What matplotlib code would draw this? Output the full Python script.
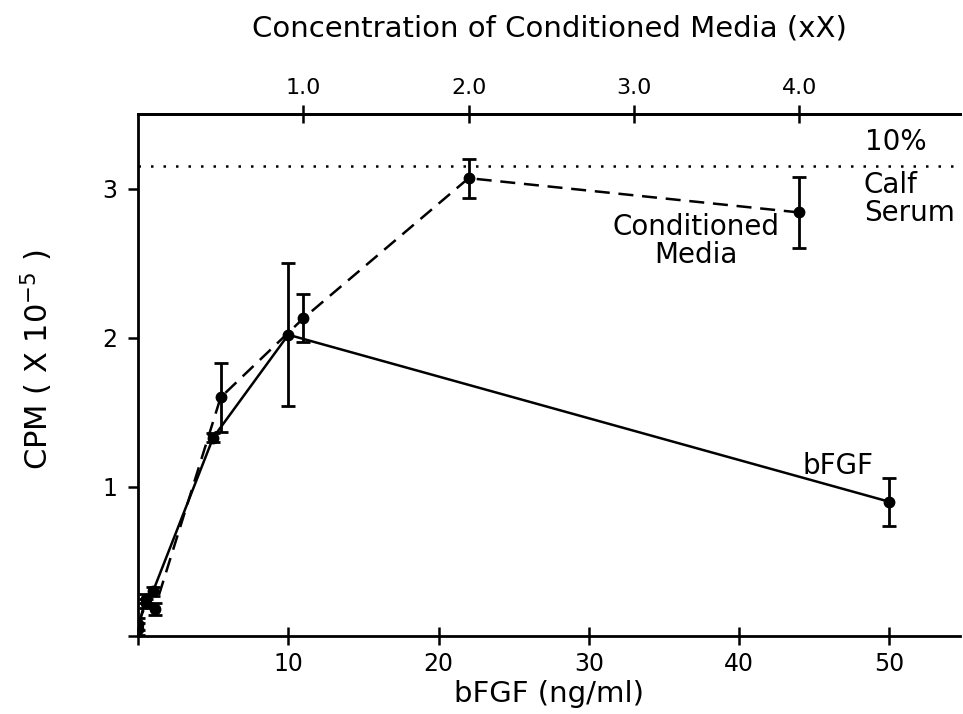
import numpy as np
import matplotlib.pyplot as plt

plt.rcParams['font.family'] = ['DejaVu Sans']

# bFGF dose response (ng/ml -> CPM x 1e-5)
bfgf_x = [0, 0.5, 1, 5, 10, 50]
bfgf_y = [0.05, 0.25, 0.30, 1.33, 2.02, 0.90]
bfgf_err = [0.04, 0.03, 0.03, 0.03, 0.48, 0.16]

# conditioned media, plotted on bFGF scale (1.0 X == 11 ng/ml)
cm_conc = [0, 0.05, 0.1, 0.5, 1.0, 2.0, 4.0]
cm_y = [0.08, 0.22, 0.18, 1.60, 2.13, 3.07, 2.84]
cm_err = [0.04, 0.03, 0.04, 0.23, 0.16, 0.13, 0.24]
scale = 11.0

calf_serum = 3.15

x_ticks = [0, 10, 20, 30, 40, 50]
x_labels = ['', '10', '20', '30', '40', '50']
y_ticks = [0, 1, 2, 3]
y_labels = ['', '1', '2', '3']
top_ticks = [1.0, 2.0, 3.0, 4.0]

fig = plt.figure(figsize=(9.63, 7.14), dpi=100)
ax = fig.add_axes([0.1433, 0.1092, 0.8537, 0.7311])

cm_x = [c * scale for c in cm_conc]

ax.errorbar(bfgf_x, bfgf_y, yerr=bfgf_err, color='black', lw=1.8,
            marker='o', ms=7.5, capsize=5, elinewidth=2, capthick=2)
ax.errorbar(cm_x, cm_y, yerr=cm_err, color='black', lw=1.8, ls=(0, (6, 3.5)),
            marker='o', ms=7.5, capsize=5, elinewidth=2, capthick=2)
ax.axhline(calf_serum, color='black', lw=1.8, ls=(0, (1, 4)))

ax.set_xlim(0, 54.7)
ax.set_ylim(0, 3.5)
ax.set_xticks(x_ticks)
ax.set_xticklabels(x_labels)
ax.set_yticks(y_ticks)
ax.set_yticklabels(y_labels)
ax.tick_params(axis='x', direction='inout', length=13, width=1.8, labelsize=17, pad=5)
ax.tick_params(axis='y', direction='out', length=7, width=1.8, labelsize=17, pad=8)
ax.spines['right'].set_visible(False)
for s in ['left', 'bottom', 'top']:
    ax.spines[s].set_linewidth(2)

ax.set_xlabel('bFGF (ng/ml)', fontsize=21, labelpad=3)
ax.set_ylabel('CPM ( X 10$^{-5}$ )', fontsize=22, labelpad=34)
ax.yaxis.label.set_y(0.53)

top = ax.secondary_xaxis('top', functions=(lambda x: x / scale, lambda c: c * scale))
top.set_xticks(top_ticks)
top.set_xticklabels(['%.1f' % t for t in top_ticks])
top.tick_params(direction='inout', length=13, width=1.8, labelsize=16, pad=5)
top.spines['top'].set_linewidth(2)
top.set_xlabel('Concentration of Conditioned Media (xX)', fontsize=21, labelpad=30)

ax.text(48.4, 3.31, '10%', fontsize=20, va='center', ha='left')
ax.text(48.3, 2.93, 'Calf\nSerum', fontsize=20, va='center', ha='left', linespacing=1.0)
ax.text(37.1, 2.65, 'Conditioned\nMedia', fontsize=20, va='center', ha='center', linespacing=1.0)
ax.text(46.6, 1.14, 'bFGF', fontsize=20, va='center', ha='center')

fig.savefig('out.png', dpi=100)
